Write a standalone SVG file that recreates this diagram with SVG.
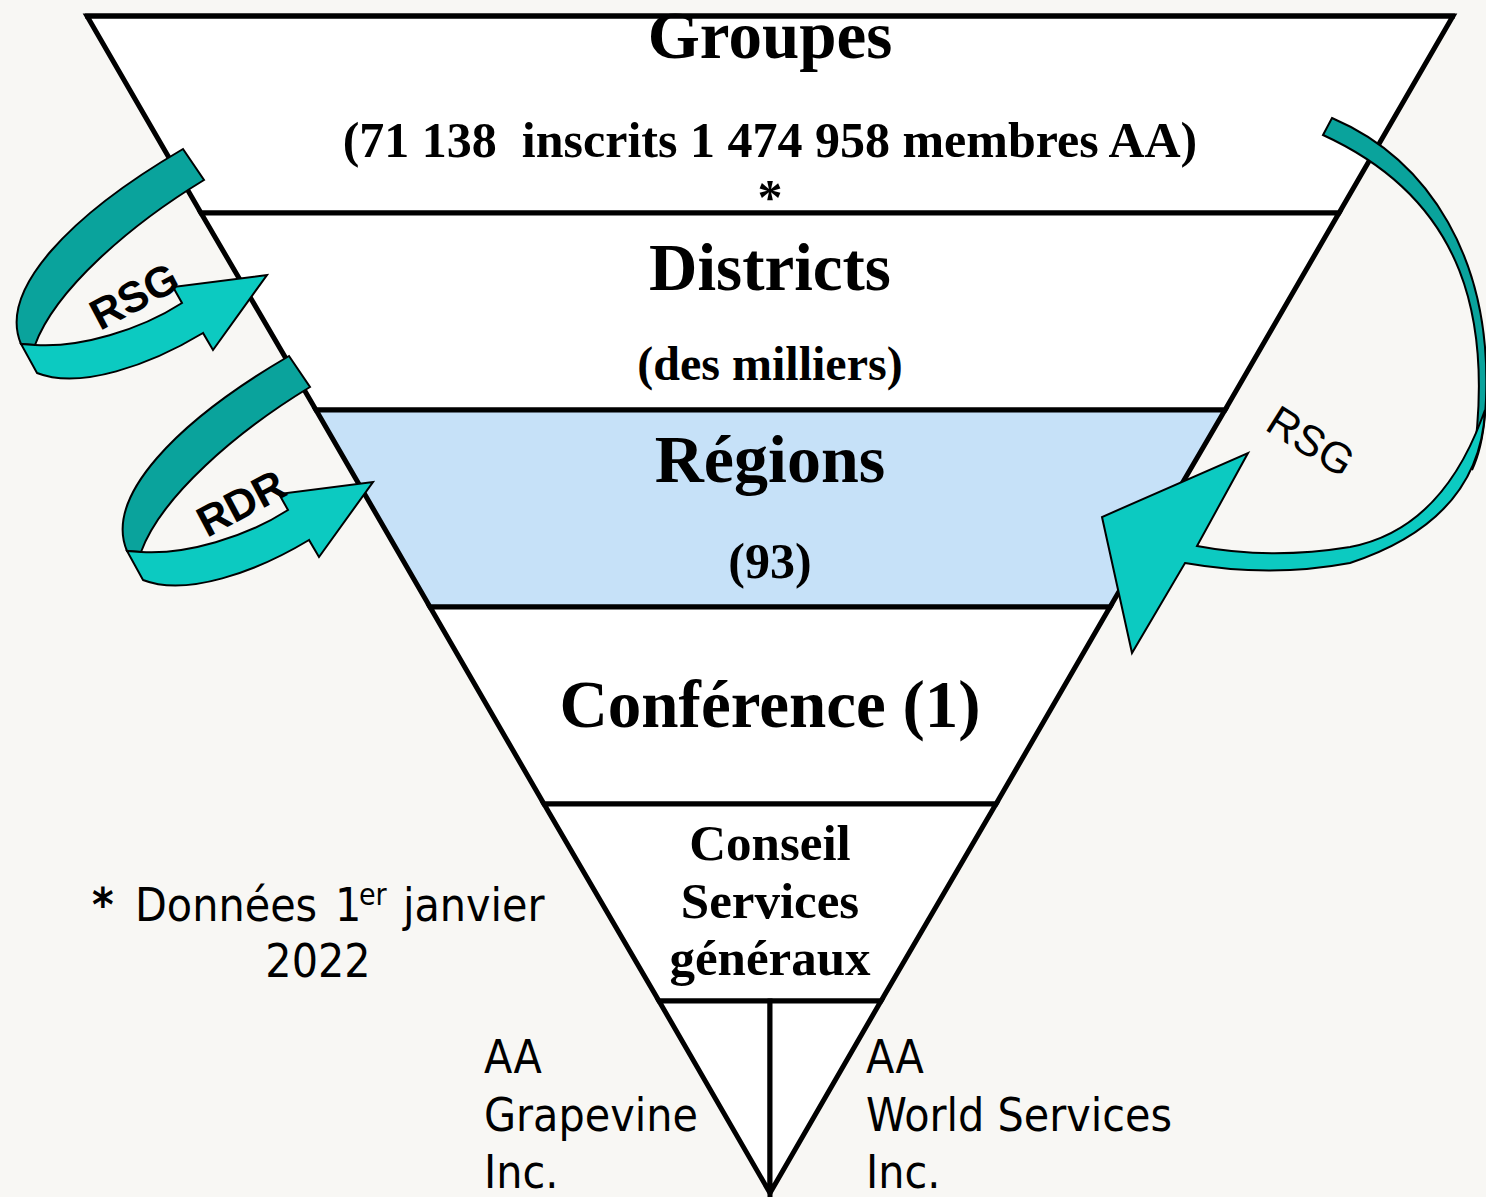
<svg xmlns="http://www.w3.org/2000/svg" width="1486" height="1197" viewBox="0 0 1486 1197">
<style>
.band{fill:#ffffff;stroke:#000;stroke-width:5;stroke-linejoin:miter}
.blue{fill:#c6e1f8}
.serif{font-family:"Liberation Serif","Times New Roman",serif;font-weight:bold;fill:#000;text-anchor:middle}
.sans{font-family:"DejaVu Sans","Liberation Sans",sans-serif;font-stretch:condensed;fill:#000}
.lab{font-family:"Liberation Sans",Arial,sans-serif;fill:#000;text-anchor:middle;font-size:43px}
.dark{fill:#0aa39c;stroke:#000;stroke-width:2;stroke-linejoin:miter}
.light{fill:#0ccac1;stroke:#000;stroke-width:2;stroke-linejoin:miter}
</style>
<defs>
<g id="leftArrow">
<path class="dark" d="M183,149 L204,180 C130,225 55,290 35,345 L21,344 C-2,290 70,215 183,149 Z"/>
<path class="light" d="M21,344 L35,345 C80,348 140,330 182,303 L173,287 L267,275 L213,350 L203,333 C150,365 80,390 37,373 Z"/>
</g>
</defs>
<rect x="0" y="0" width="1486" height="1197" fill="#f8f7f4"/>

<g id="groupes">
<polygon class="band" points="87,16 1453,16 1339,213 201,213"/>
<text class="serif" x="770" y="58" font-size="67">Groupes</text>
<text class="serif" x="770" y="157" font-size="50" xml:space="preserve">(71 138  inscrits 1 474 958 membres AA)</text>
<text class="serif" x="770" y="214" font-size="50">*</text>
<line x1="85" y1="16" x2="1455" y2="16" stroke="#000" stroke-width="5"/>
</g>
<g id="districts">
<polygon class="band" points="201,213 1339,213 1225,410 316,410"/>
<text class="serif" x="770" y="290" font-size="67">Districts</text>
<text class="serif" x="770" y="380" font-size="48">(des milliers)</text>
</g>
<g id="regions">
<polygon class="band blue" points="316,410 1225,410 1110,607 430,607"/>
<text class="serif" x="770" y="482" font-size="68">Régions</text>
<text class="serif" x="770" y="578" font-size="50">(93)</text>
</g>
<g id="conference">
<polygon class="band" points="430,607 1110,607 996,804 544,804"/>
<text class="serif" x="770" y="727" font-size="67">Conférence (1)</text>
</g>
<g id="conseil">
<polygon class="band" points="544,804 996,804 881,1001 659,1001"/>
<text class="serif" x="770" y="860" font-size="51">Conseil</text>
<text class="serif" x="770" y="918" font-size="51">Services</text>
<text class="serif" x="770" y="975" font-size="51">généraux</text>
</g>
<g id="grapevine">
<polygon class="band" points="659,1001 770,1001 770,1193"/>
<text class="sans" font-size="46"><tspan x="484" y="1073">AA</tspan><tspan x="484" y="1131">Grapevine</tspan><tspan x="484" y="1188">Inc.</tspan></text>
</g>
<g id="worldservices">
<polygon class="band" points="770,1001 881,1001 770,1193"/>
<text class="sans" font-size="46"><tspan x="866" y="1073">AA</tspan><tspan x="866" y="1131">World Services</tspan><tspan x="866" y="1188">Inc.</tspan></text>
</g>
<g id="note">
<text class="sans" font-size="46" y="921"><tspan x="92" font-weight="bold">*</tspan><tspan x="135">Données</tspan><tspan x="335">1</tspan><tspan x="359" dy="-16" font-size="30">er</tspan><tspan x="403" dy="16">janvier</tspan></text>
<text class="sans" font-size="46" x="318" y="977" text-anchor="middle">2022</text>
</g>

<g id="connectors">
<g id="arrow-rsg-left">
<use href="#leftArrow"/>
<text class="lab" font-weight="bold" transform="translate(134,296) rotate(-28)" y="15">RSG</text>
</g>
<g id="arrow-rdr">
<use href="#leftArrow" transform="translate(106,207)"/>
<text class="lab" font-weight="bold" transform="translate(241,503) rotate(-28)" y="15">RDR</text>
</g>
<g id="arrow-rsg-right">
<path class="dark" d="M1332,118 C1430,160 1492,260 1486,400 Q1484,445 1472,470 C1495,320 1465,200 1323,135 Z"/>
<path class="light" d="M1485,410 Q1480,520 1350,563 Q1270,578 1185,563 L1132,653 L1102,517 L1248,453 L1197,546 Q1270,560 1350,547 Q1440,530 1482,418 Z"/>
<text class="lab" font-size="44" transform="translate(1311,441) rotate(32)" y="15">RSG</text>
</g>
</g>
</svg>
